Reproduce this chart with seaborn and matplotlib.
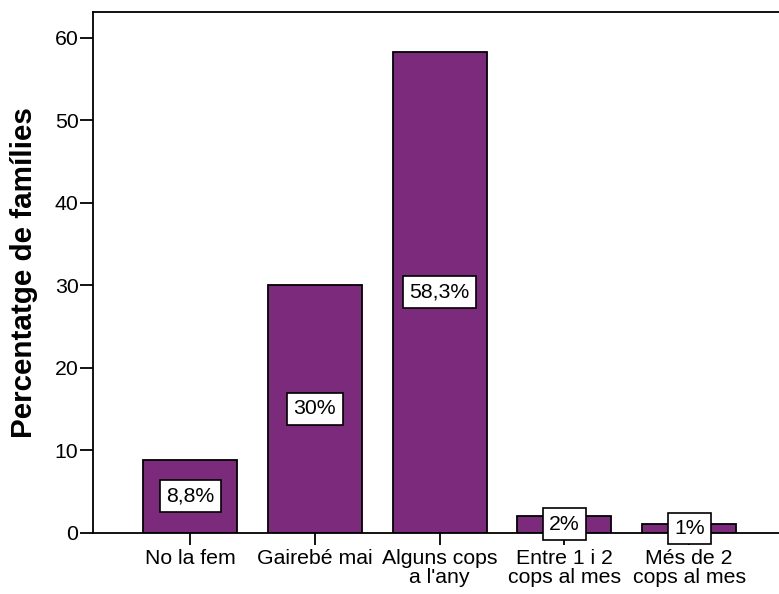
import matplotlib
matplotlib.use("Agg")
import matplotlib.pyplot as plt
import seaborn as sns
import pandas as pd

categories = ["No la fem", "Gairebé mai", "Alguns cops\na l'any",
              "Entre 1 i 2\ncops al mes", "Més de 2\ncops al mes"]
percentages = [8.8, 30.0, 58.3, 2.0, 1.0]
value_labels = ["8,8%", "30%", "58,3%", "2%", "1%"]
y_ticks = [0, 10, 20, 30, 40, 50, 60]

sns.set_style("white")
plt.rcParams["font.family"] = ["Liberation Sans", "DejaVu Sans"]
plt.rcParams["text.color"] = "black"
plt.rcParams["axes.labelcolor"] = "black"
plt.rcParams["xtick.color"] = "black"
plt.rcParams["ytick.color"] = "black"

df = pd.DataFrame({"categoria": categories, "percentatge": percentages})

fig = plt.figure(figsize=(7.79, 5.94), dpi=100)
ax = fig.add_axes([0.1194, 0.1035, 0.890, 0.8763])

sns.barplot(data=df, x="categoria", y="percentatge", ax=ax,
            color="#7b2a7c", saturation=1, edgecolor="black",
            linewidth=1.3, width=0.754)

for i, (v, lab) in enumerate(zip(percentages, value_labels)):
    ax.text(i, v / 2, lab, ha="center", va="center", fontsize=15.3,
            color="black",
            bbox=dict(boxstyle="square,pad=0.3", facecolor="white",
                      edgecolor="black", linewidth=1.2), zorder=5)

ax.set_xlim(-0.778, 4.778)
ax.set_ylim(0, 63.1)
ax.set_yticks(y_ticks)
ax.set_yticklabels([str(t) for t in y_ticks], fontsize=15.3)
ax.tick_params(axis="x", labelsize=15.3, length=8.6, width=1.3, direction="out",
               bottom=True, pad=3)
ax.tick_params(axis="y", length=9.5, width=1.3, direction="out", left=True, pad=1)
for s in ax.spines.values():
    s.set_linewidth(1.3)
    s.set_color("black")
ax.spines["right"].set_visible(False)

ax.set_xlabel("")
ax.set_ylabel("Percentatge de famílies", fontsize=21.3, fontweight="bold", labelpad=12)
for t in ax.get_xticklabels():
    t.set_linespacing(1.05)

fig.savefig("out.png", dpi=100)
